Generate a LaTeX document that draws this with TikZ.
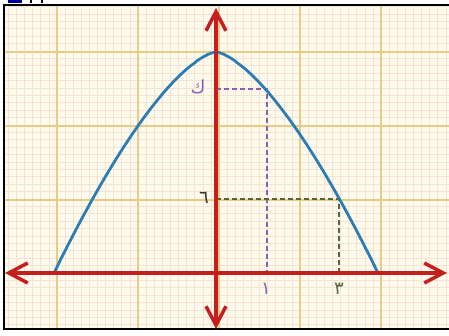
\documentclass[tikz,border=0pt]{standalone}
\usepackage{fontspec}
\newfontfamily\arabicfont[Script=Arabic]{DejaVu Sans}
\TeXXeTstate=1
\usetikzlibrary{arrows.meta}
\definecolor{paper}{HTML}{FFFAEE}
\definecolor{minorline}{HTML}{F5E3CF}
\definecolor{majorline}{HTML}{E8CB85}
\definecolor{axisred}{HTML}{C41E1E}
\definecolor{curveblue}{HTML}{2A7DB5}
\definecolor{kpurple}{HTML}{8A5FB0}
\definecolor{sixgreen}{HTML}{56663F}
\tikzset{
  axisline/.style={axisred,line width=3.5pt,{Straight Barb[length=19pt,width=20pt]}-{Straight Barb[length=19pt,width=20pt]}},
  guide/.style={line width=1.9pt,dash pattern=on 5pt off 3pt},
  lbl/.style={font=\arabicfont\fontsize{18}{20}\selectfont,inner sep=1pt}
}
\begin{document}
\begin{tikzpicture}[x=1pt,y=1pt]
\useasboundingbox (-216,-63) rectangle (233,273);
\fill[white] (-216,-63) rectangle (233,273);
\fill[paper] (-212,-56) rectangle (240,268);
\begin{scope}
\clip (-212,-56) rectangle (240,268);
\foreach \i in {-30,...,29} {\draw[minorline,line width=0.6pt] ({3+8.1*\i},-60)--({3+8.1*\i},270);}
\foreach \j in {-8,...,37} {\draw[minorline,line width=0.6pt] (-215,{7.4*\j})--(240,{7.4*\j});}
\foreach \x in {-159,-78,3,84,165} {\draw[majorline,line width=1.2pt] (\x,-60)--(\x,270);}
\foreach \y in {73,147,221} {\draw[majorline,line width=1.2pt] (-215,\y)--(240,\y);}
\end{scope}
\draw[black,line width=1.6pt] (240,268)--(-212,268)--(-212,-56)--(240,-56);
% scrap at top edge
\fill[blue!60!black] (-208,273) rectangle (-194,269.5);
\fill[black] (-186,273) rectangle (-184,269.5);
\fill[black] (-175,273) rectangle (-173,269.5);
\coordinate (O) at (0,0);
\coordinate (yk) at (0,184);
\coordinate (pk) at (51,184);
\coordinate (xk) at (51,0);
\coordinate (y6) at (0,74);
\coordinate (p6) at (123,74);
\coordinate (x3) at (123,0);
\draw[kpurple,guide] (yk)--(pk)--(xk);
\draw[sixgreen,guide] (y6)--(p6)--(x3);
\draw[curveblue,line width=2.8pt,line cap=round] plot[domain=-1:1,samples=121,variable=\t] ({162*\t},{221*(1-abs(\t)^1.5)});
\coordinate (xl) at (-211,0);
\coordinate (xr) at (231,0);
\coordinate (yt) at (0,265);
\coordinate (yb) at (0,-56);
\draw[axisline] (xl)--(xr);
\draw[axisline] (yb)--(yt);
\node[lbl,text=kpurple] (lk) at (-18,186) {\beginR ك\endR};
\node[lbl,text=black!80] (l6) at (-12,75) {\beginR ٦\endR};
\node[lbl,text=kpurple] (l1) at (50,-16) {\beginR ١\endR};
\node[lbl,text=sixgreen] (l3) at (123,-16) {\beginR ٣\endR};
\end{tikzpicture}
\end{document}
